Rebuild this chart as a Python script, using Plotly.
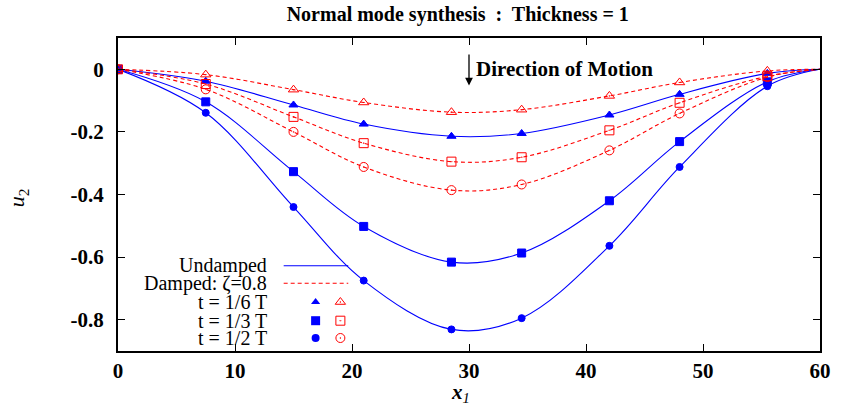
import plotly.graph_objects as go

# ---- data ----
x_nodes = [0, 7.5, 15, 21, 28.5, 34.5, 42, 48, 55.5, 60]

undamped_t16 = [0, -0.038, -0.114, -0.175, -0.214, -0.205, -0.146, -0.080, -0.013, 0]
undamped_t13 = [0, -0.104, -0.327, -0.502, -0.616, -0.587, -0.420, -0.231, -0.040, 0]
undamped_t12 = [0, -0.139, -0.440, -0.675, -0.831, -0.795, -0.564, -0.312, -0.054, 0]

damped_t16 = [0, -0.017, -0.065, -0.106, -0.137, -0.129, -0.085, -0.042, -0.005, 0]
damped_t13 = [0, -0.047, -0.152, -0.236, -0.295, -0.281, -0.195, -0.107, -0.022, 0]
damped_t12 = [0, -0.064, -0.200, -0.312, -0.386, -0.368, -0.259, -0.141, -0.025, 0]

y_ticks = [0, -0.2, -0.4, -0.6, -0.8]
y_tick_text = ["0", "-0.2", "-0.4", "-0.6", "-0.8"]
x_ticks = [0, 10, 20, 30, 40, 50, 60]

legend_rows = ["t = 1/6 T", "t = 1/3 T", "t = 1/2 T"]

BLUE = "rgb(0,0,255)"
RED = "rgb(255,0,0)"
SERIF = "Liberation Serif, Times New Roman, DejaVu Serif, serif"

fig = go.Figure()

series = [
    (undamped_t16, BLUE, "solid", "triangle-up", 8),
    (undamped_t13, BLUE, "solid", "square", 8),
    (undamped_t12, BLUE, "solid", "circle", 7),
    (damped_t16, RED, "dash", "triangle-up-open-dot", 9),
    (damped_t13, RED, "dash", "square-open-dot", 9),
    (damped_t12, RED, "dash", "circle-open-dot", 9),
]

for ys, col, dash, sym, sz in series:
    fig.add_trace(go.Scatter(
        x=x_nodes, y=ys, mode="lines",
        line=dict(color=col, width=1.1, dash="4px,3px" if dash == "dash" else "solid",
                  shape="spline", smoothing=1.0),
        showlegend=False, hoverinfo="skip"))
    fig.add_trace(go.Scatter(
        x=x_nodes[:-1], y=ys[:-1], mode="markers",
        marker=dict(symbol=sym, size=sz, color=col, line=dict(color=col, width=1)),
        showlegend=False))

# ---- custom gnuplot-style key (overlay axes spanning the plot area) ----
key_x_filled = 0.2815
key_x_open = 0.3168
key_rows_y = [0.1565, 0.0968, 0.0415]
key_syms = [("triangle-up", "triangle-up-open-dot", 8, 9),
            ("square", "square-open-dot", 9, 9),
            ("circle", "circle-open-dot", 8, 9)]
for ry, (fs, os_, s1, s2) in zip(key_rows_y, key_syms):
    fig.add_trace(go.Scatter(x=[key_x_filled], y=[ry], mode="markers", xaxis="x2", yaxis="y2",
                             marker=dict(symbol=fs, size=s1, color=BLUE), showlegend=False))
    fig.add_trace(go.Scatter(x=[key_x_open], y=[ry], mode="markers", xaxis="x2", yaxis="y2",
                             marker=dict(symbol=os_, size=s2, color=RED, line=dict(color=RED, width=1)),
                             showlegend=False))

annotations = []
key_text_x = 0.215
for txt, ry in zip(["Undamped", "Damped: ζ=0.8"] + legend_rows,
                   [0.2725, 0.2163] + key_rows_y):
    annotations.append(dict(xref="paper", yref="paper", x=key_text_x, y=ry, text=txt,
                            showarrow=False, xanchor="right", yanchor="middle",
                            font=dict(family=SERIF, size=20, color="black")))

shapes = [
    dict(type="line", xref="paper", yref="paper", x0=0.236, x1=0.328, y0=0.2725, y1=0.2725,
         line=dict(color=BLUE, width=1.1)),
    dict(type="line", xref="paper", yref="paper", x0=0.236, x1=0.328, y0=0.2163, y1=0.2163,
         line=dict(color=RED, width=1.1, dash="4px,3px")),
]

# Direction of motion arrow + text
annotations.append(dict(x=30, y=-0.052, ax=30, ay=0.052, xref="x", yref="y", axref="x", ayref="y",
                        showarrow=True, arrowhead=2, arrowsize=1.2, arrowwidth=1.3,
                        arrowcolor="black", text=""))
annotations.append(dict(x=30.4, y=0.0, xref="x", yref="y", text="<b>Direction of Motion</b>",
                        showarrow=False, xanchor="left", yanchor="middle",
                        font=dict(family=SERIF, size=21, color="black")))

# axis labels
annotations.append(dict(xref="paper", yref="paper", x=0.488, y=-0.134, text="<b><i>x</i></b><sub><i>1</i></sub>",
                        showarrow=False, xanchor="center", yanchor="middle",
                        font=dict(family=SERIF, size=21, color="black")))
annotations.append(dict(xref="paper", yref="paper", x=-0.143, y=0.49, text="<i>u</i><sub>2</sub>",
                        showarrow=False, textangle=-90, xanchor="center", yanchor="middle",
                        font=dict(family=SERIF, size=22, color="black")))

fig.update_layout(
    width=843, height=409,
    margin=dict(l=118, r=18, t=38, b=58),
    paper_bgcolor="white", plot_bgcolor="white",
    font=dict(family=SERIF),
    title=dict(text="<b>Normal mode synthesis  :  Thickness = 1</b>", x=0.543, xanchor="center",
               y=0.965, yanchor="middle", font=dict(family=SERIF, size=20, color="black")),
    xaxis=dict(range=[0, 60], tickvals=x_ticks, ticktext=[f"<b>{v}</b>" for v in x_ticks],
               ticks="inside", ticklen=7, tickcolor="black", showline=True, linecolor="black",
               linewidth=2, mirror="allticks", showgrid=False, zeroline=False,
               tickfont=dict(family=SERIF, size=21, color="black")),
    yaxis=dict(range=[-0.9, 0.1], tickvals=y_ticks, ticktext=[f"<b>{t}</b>" for t in y_tick_text],
               ticks="inside", ticklen=7, tickcolor="black", showline=True, linecolor="black",
               linewidth=2, mirror="allticks", showgrid=False, zeroline=False,
               ticklabelstandoff=8,
               tickfont=dict(family=SERIF, size=21, color="black")),
    xaxis2=dict(overlaying="x", range=[0, 1], visible=False),
    yaxis2=dict(overlaying="y", range=[0, 1], visible=False),
    annotations=annotations, shapes=shapes,
)

fig.write_html("out.html")
